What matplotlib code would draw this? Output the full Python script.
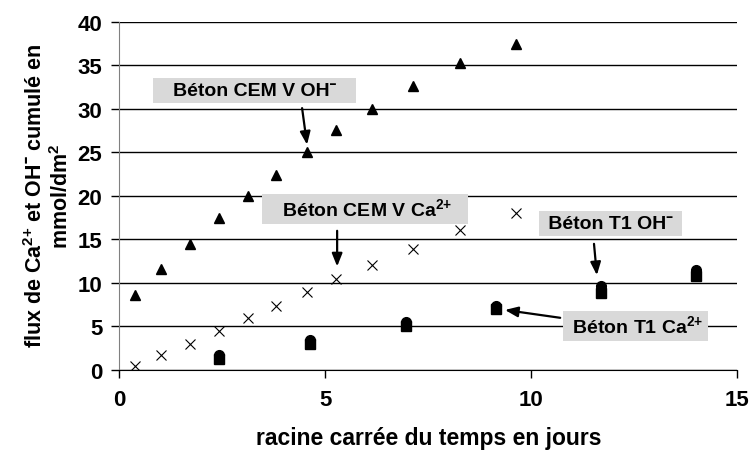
import matplotlib.pyplot as plt

plt.rcParams["font.family"] = ["Liberation Sans", "DejaVu Sans"]
plt.rcParams["font.weight"] = "bold"
plt.rcParams["mathtext.fontset"] = "custom"
plt.rcParams["mathtext.bf"] = "Liberation Sans:bold"
plt.rcParams["mathtext.rm"] = "Liberation Sans:bold"

# CEM V concrete: OH- (triangles) and Ca2+ (crosses)
CEMV_X = [0.39, 1.02, 1.72, 2.43, 3.13, 3.81, 4.56, 5.26, 6.14, 7.12, 8.27, 9.63]
CEMV_OH = [8.6, 11.6, 14.5, 17.5, 20.0, 22.4, 25.0, 27.6, 30.0, 32.6, 35.3, 37.5]
CEMV_CA = [0.5, 1.7, 3.0, 4.5, 6.0, 7.4, 9.0, 10.5, 12.1, 13.9, 16.1, 18.0]

# T1 concrete: OH- (circles) and Ca2+ (squares)
T1_X = [2.43, 4.64, 6.95, 9.15, 11.7, 14.0]
T1_OH = [1.7, 3.5, 5.5, 7.4, 9.7, 11.5]
T1_CA = [1.3, 3.0, 5.0, 7.0, 8.9, 10.8]

CA = r"Ca$^{\text{2+}}$"
OH = "OH\u02c9"

BOX = dict(boxstyle="square,pad=0.2", fc="#d9d9d9", ec="none")
ARROW = dict(arrowstyle="-|>,head_length=0.55,head_width=0.22", color="black", lw=1.6,
             mutation_scale=14, shrinkA=0, shrinkB=0)


def label(ax, text, xy, fs=14):
    ax.text(xy[0], xy[1], text, fontsize=fs, fontweight="bold", ha="center", va="center",
            bbox=BOX, zorder=4)


def arrow(ax, start, end):
    ax.annotate("", xy=end, xytext=start, arrowprops=ARROW, zorder=5)


def main():
    fig = plt.figure(figsize=(7.5, 4.56), dpi=100)
    ax = fig.add_axes([0.1587, 0.1864, 0.8246, 0.7632])

    ax.plot(CEMV_X, CEMV_OH, linestyle="none", marker="^", ms=7.5, color="black", zorder=3)
    ax.plot(CEMV_X, CEMV_CA, linestyle="none", marker="x", ms=7, mew=0.8, color="black", zorder=3)
    ax.plot(T1_X, T1_OH, linestyle="none", marker="o", ms=7, color="black", zorder=3)
    ax.plot(T1_X, T1_CA, linestyle="none", marker="s", ms=6.5, color="black", zorder=3)

    ax.set_xlim(0, 15)
    ax.set_ylim(0, 40)
    ax.set_xticks([0, 5, 10, 15])
    ax.set_yticks(range(0, 45, 5))
    ax.tick_params(axis="both", direction="out", length=6, width=1, labelsize=16)
    ax.tick_params(axis="x", pad=8)
    ax.tick_params(axis="y", pad=6)
    ax.grid(axis="y", color="black", linewidth=1)
    ax.set_axisbelow(True)
    ax.spines["top"].set_visible(False)
    ax.spines["right"].set_visible(False)
    ax.spines["left"].set_color("#808080")
    ax.spines["bottom"].set_color("black")
    ax.spines["bottom"].set_zorder(3)

    ax.set_xlabel("racine carrée du temps en jours", fontsize=16.5, fontweight="bold", labelpad=11)
    fig.text(0.065, 0.57, f"flux de {CA} et {OH} cumulé en\nmmol/dm$^{{\\text{{2}}}}$", fontsize=15.5,
             fontweight="bold", rotation=90, ha="center", va="center",
             multialignment="center", linespacing=1.2)

    label(ax, f"   Béton CEM V {OH}   ", (3.29, 32.1))
    label(ax, f"   Béton CEM V {CA}   ", (5.97, 18.5))
    label(ax, f" Béton T1 {OH} ", (11.93, 16.8))
    label(ax, f" Béton T1 {CA} ", (12.53, 5.07))

    arrow(ax, (4.44, 30.1), (4.56, 25.9))
    arrow(ax, (5.29, 16.0), (5.29, 11.9))
    arrow(ax, (11.52, 14.5), (11.59, 10.9))
    arrow(ax, (10.7, 6.0), (9.36, 6.9))

    fig.savefig("out.png", dpi=100)
    plt.close(fig)


if __name__ == "__main__":
    main()
